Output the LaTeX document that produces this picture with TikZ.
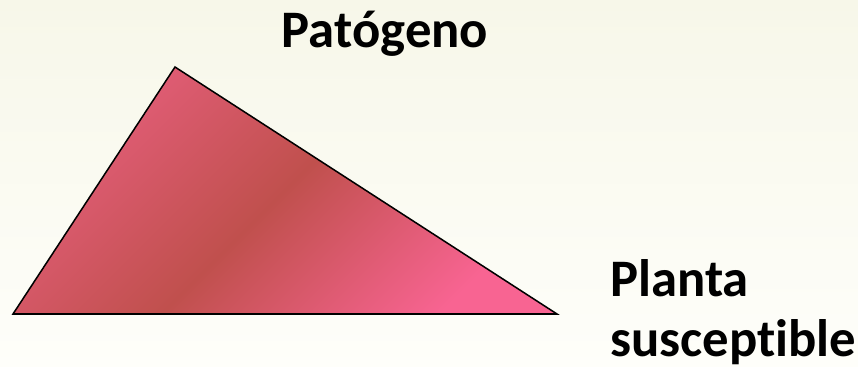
\documentclass[tikz,border=0pt]{standalone}
\usepackage{fontspec}
\setmainfont{Carlito}[Ligatures=NoCommon]
\usepackage{xcolor}
\usepackage{tikz}
\usetikzlibrary{positioning}
\definecolor{slidetop}{RGB}{247,247,233}
\definecolor{slidebottom}{RGB}{254,254,250}
\definecolor{trianglepink}{RGB}{228,94,122}
\definecolor{triangledark}{RGB}{192,80,77}
\definecolor{trianglerose}{RGB}{248,100,146}
\pgfdeclarehorizontalshading{triangleshade}{100bp}{color(0bp)=(trianglepink); color(25bp)=(trianglepink); color(50bp)=(triangledark); color(75bp)=(trianglerose); color(100bp)=(trianglerose)}
\tikzset{
  label text/.style={font=\bfseries\fontsize{45}{52}\selectfont, inner sep=0pt, text=black}
}

\begin{document}
\begin{tikzpicture}[x=0.03cm, y=-0.03cm]
  % slide background
  \fill[top color=slidetop, bottom color=slidebottom] (0,0) rectangle (858,367);
  \useasboundingbox (0,0) rectangle (858,367);
  % triangle corners
  \coordinate (pathogen) at (175,67);
  \coordinate (environment) at (13,314);
  \coordinate (host) at (557,314);
  \draw[line width=1.3pt, line join=miter, shading=triangleshade, shading angle=-45]
    (pathogen) -- (host) -- (environment) -- cycle;
  % labels
  \node[label text, anchor=base] (patogeno) at (385,48) {Patógeno};
  \node[label text, anchor=base west] (planta) at (610,296) {Planta};
  \node[label text, anchor=base west] (susceptible) at (610,356) {susceptible};
\end{tikzpicture}
\end{document}
